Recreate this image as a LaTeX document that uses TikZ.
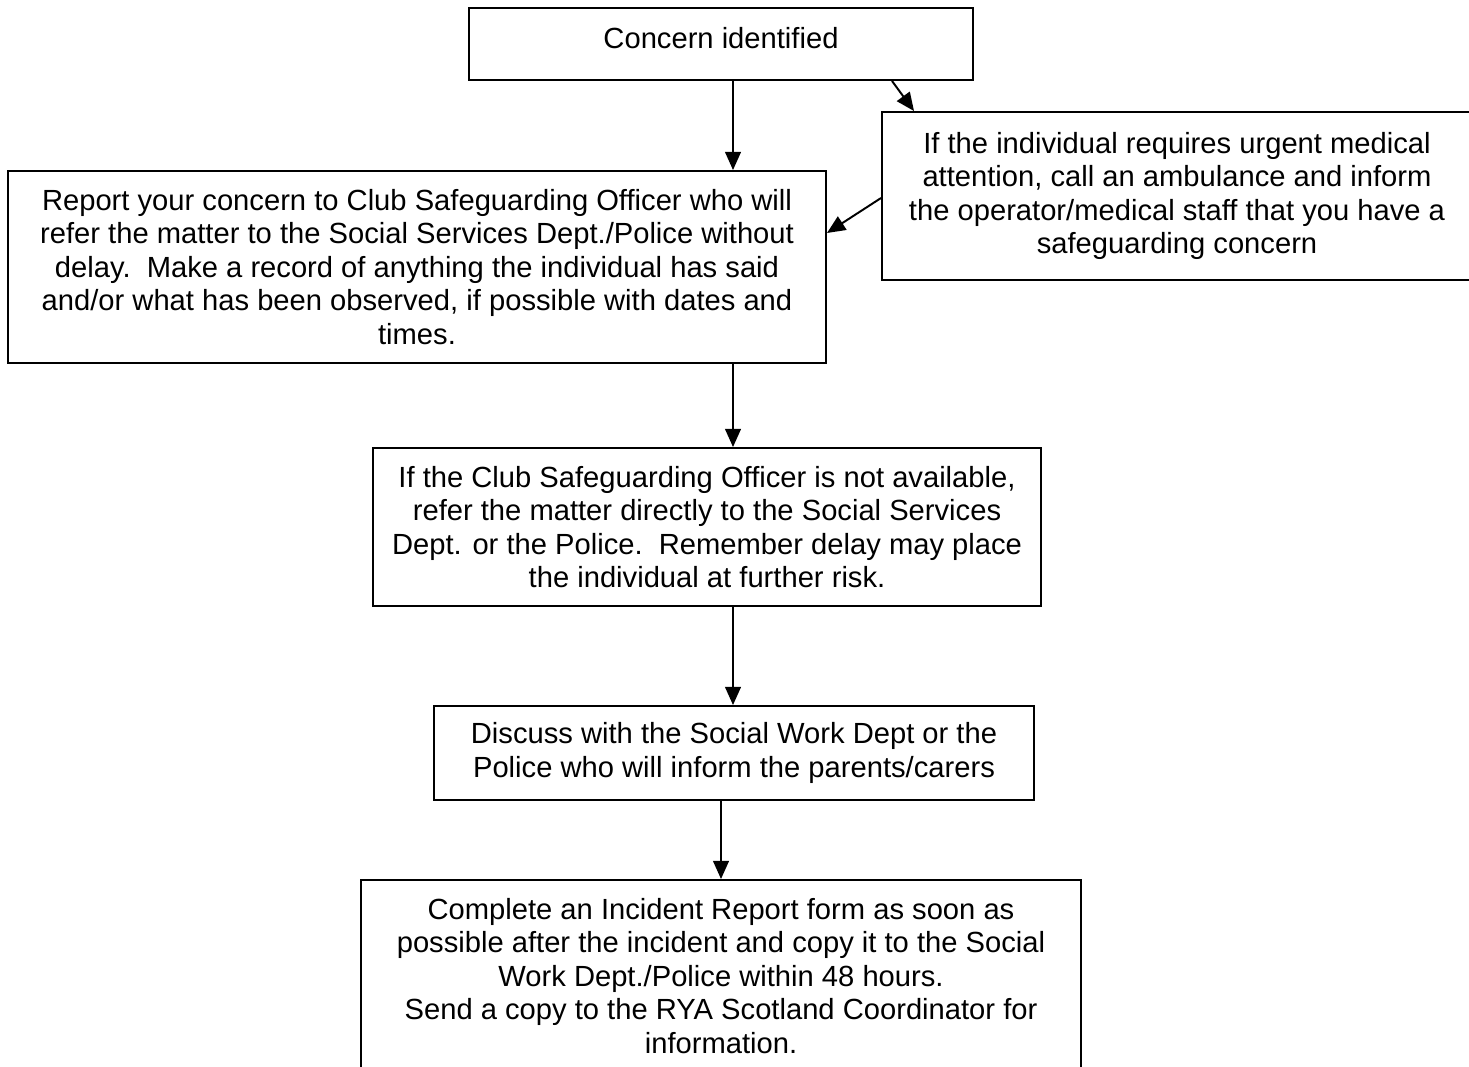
\documentclass[tikz,border=0pt]{standalone}
\usepackage{fontspec}
\setmainfont{Liberation Sans}
\usetikzlibrary{arrows.meta}
\newcommand{\pxu}{0.4115pt}
\begin{document}
\begin{tikzpicture}[x=0.4115pt, y=-0.4115pt,
    box/.style={draw, line width=0.8pt, inner sep=0pt, align=center, font=\fontsize{12}{13.8}\selectfont},
    arr/.style={-{Triangle[length=7.5pt,width=6.5pt]}, line width=0.8pt}]
  \useasboundingbox (0,0) rectangle (1469,1066);

  % boxes
  \node [box, text depth=5pt, minimum width=504*\pxu, minimum height=72*\pxu] (concern) at (721,44) {Concern identified};
  \node [box, minimum width=590*\pxu, minimum height=168*\pxu] (medical) at (1177,196) {If the individual requires urgent medical\\attention, call an ambulance and inform\\the operator/medical staff that you have a\\safeguarding concern};
  \node [box, minimum width=818*\pxu, minimum height=192*\pxu] (report) at (417,267) {Report your concern to Club Safeguarding Officer who will\\refer the matter to the Social Services Dept./Police without\\delay.\ \ Make a record of anything the individual has said\\and/or what has been observed, if possible with dates and\\times.};
  \node [box, minimum width=668*\pxu, minimum height=158*\pxu] (unavail) at (707,527) {If the Club Safeguarding Officer is not available,\\refer the matter directly to the Social Services\\Dept. or the Police.\ \ Remember delay may place\\the individual at further risk.};
  \node [box, minimum width=600*\pxu, minimum height=94*\pxu] (discuss) at (734,753) {Discuss with the Social Work Dept or the\\Police who will inform the parents/carers};
  \node [box, minimum width=720*\pxu, minimum height=192*\pxu] (incident) at (721,976) {Complete an Incident Report form as soon as\\possible after the incident and copy it to the Social\\Work Dept./Police within 48 hours.\\Send a copy to the RYA Scotland Coordinator for\\information.};

  % arrows
  \coordinate (spine) at (733,0);
  \coordinate (d1) at (892,0);
  \coordinate (d2) at (914,0);
  \coordinate (h1) at (0,198);
  \coordinate (h2) at (0,233);
  \draw [arr] (concern.south -| spine) -- (report.north -| spine);
  \draw [arr] (concern.south -| d1) -- (medical.north -| d2);
  \draw [arr] (medical.west |- h1) -- (report.east |- h2);
  \draw [arr] (report.south -| spine) -- (unavail.north -| spine);
  \draw [arr] (unavail.south -| spine) -- (discuss.north -| spine);
  \draw [arr] (discuss.south -| incident.north) -- (incident.north);
\end{tikzpicture}
\end{document}
